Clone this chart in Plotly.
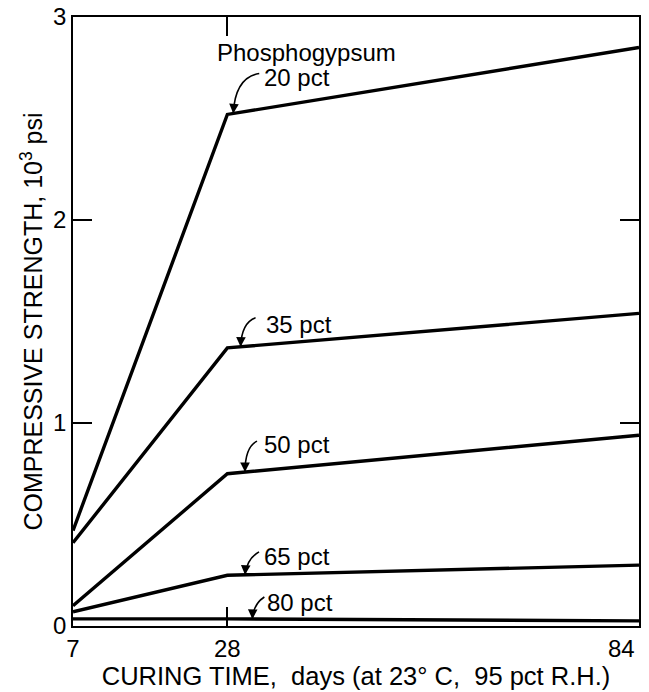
import plotly.graph_objects as go
import numpy as np

# ---- data ----
days = [7, 28, 84]
pct20 = [0.47, 2.52, 2.85]
pct35 = [0.41, 1.37, 1.54]
pct50 = [0.10, 0.75, 0.94]
pct65 = [0.07, 0.25, 0.30]
pct80 = [0.035, 0.035, 0.025]
series = [("20 pct", pct20), ("35 pct", pct35), ("50 pct", pct50),
          ("65 pct", pct65), ("80 pct", pct80)]
x_ticks = [7, 28, 84]
x_ticktext = ["7", "28", ""]      # the last one is drawn right-aligned below
last_x_label = "84"
y_ticks = [0, 1, 2, 3]

# ---- layout geometry ----
W, H = 649, 692
ML, MR, MT, MB = 73, 10, 17, 66
XR = [7, 84]
YR = [0, 3]
pw = W - ML - MR
ph = H - MT - MB
sx = pw / (XR[1] - XR[0])   # px per day
sy = ph / (YR[1] - YR[0])   # px per unit

# label/arrow styling (pixel offsets relative to the arrow tip on the line)
arrow_style = {
    "20 pct": dict(tip=28.8, tail=(26, -40), ctrl=(2, -36), text=(29, -36)),
    "35 pct": dict(tip=29.8, tail=(15, -29), ctrl=(1, -24), text=(23, -22)),
    "50 pct": dict(tip=30.4, tail=(12, -31), ctrl=(0, -25), text=(17, -28)),
    "65 pct": dict(tip=30.4, tail=(14, -23), ctrl=(2, -16), text=(17, -18)),
    "80 pct": dict(tip=31.4, tail=(12, -22), ctrl=(1, -15), text=(13, -17)),
}

FONT = "Liberation Sans, Arial, sans-serif"

fig = go.Figure()
for name, vals in series:
    fig.add_trace(go.Scatter(x=days, y=vals, mode="lines", name=name,
                             line=dict(color="black", width=3.4),
                             showlegend=False, hoverinfo="skip"))

def to_data(x0, y0, dxp, dyp):
    return x0 + dxp / sx, y0 - dyp / sy

annotations = []
shapes = []
for name, vals in series:
    st = arrow_style[name]
    tx = st["tip"]
    ty = float(np.interp(tx, days, vals))
    ax_, ay_ = to_data(tx, ty, *st["tail"])
    cx_, cy_ = to_data(tx, ty, *st["ctrl"])
    shapes.append(dict(type="path",
                       path=f"M {ax_},{ay_} Q {cx_},{cy_} {tx},{ty}",
                       line=dict(color="black", width=1.6)))
    # arrow head
    annotations.append(dict(x=tx, y=ty, xref="x", yref="y", text="",
                            showarrow=True, arrowhead=2, arrowsize=1.2,
                            arrowwidth=1.6, arrowcolor="black",
                            ax=(st["ctrl"][0]) * 0.35, ay=-9, standoff=0))
    annotations.append(dict(x=tx, y=ty, xref="x", yref="y", text=name,
                            showarrow=False, xanchor="left", yanchor="middle",
                            xshift=st["text"][0], yshift=-st["text"][1],
                            font=dict(size=24, color="black", family=FONT)))

# "Phosphogypsum" heading above the 20 pct label
tip20 = arrow_style["20 pct"]["tip"]
annotations.append(dict(x=tip20, y=float(np.interp(tip20, days, pct20)),
                        xref="x", yref="y", text="Phosphogypsum",
                        showarrow=False, xanchor="left", yanchor="middle",
                        xshift=-18, yshift=61,
                        font=dict(size=24, color="black", family=FONT)))

# last x tick label, right-aligned to the right axis edge
annotations.append(dict(x=x_ticks[-1], y=YR[0], xref="x", yref="y",
                        text=last_x_label, showarrow=False,
                        xanchor="right", yanchor="middle",
                        xshift=-2, yshift=-22,
                        font=dict(size=24, color="black", family=FONT)))

fig.update_layout(
    width=W, height=H,
    margin=dict(l=ML, r=MR, t=MT, b=MB, autoexpand=False),
    paper_bgcolor="white", plot_bgcolor="white",
    font=dict(family=FONT, size=24, color="black"),
    annotations=annotations, shapes=shapes,
    xaxis=dict(range=XR, tickvals=x_ticks, ticktext=x_ticktext,
               showgrid=False, zeroline=False, showline=True, linecolor="black",
               linewidth=1.5, mirror="ticks", ticks="inside", ticklen=19,
               tickwidth=1.5, tickcolor="black",
               tickfont=dict(size=24, family=FONT),
               title=dict(text="CURING TIME,  days (at 23° C,  95 pct R.H.)",
                          font=dict(size=25.5, family=FONT), standoff=5)),
    yaxis=dict(range=YR, tickvals=y_ticks, ticktext=[str(t) for t in y_ticks],
               showgrid=False, zeroline=False, showline=True, linecolor="black",
               linewidth=1.5, mirror="ticks", ticks="inside", ticklen=19,
               tickwidth=1.5, tickcolor="black",
               tickfont=dict(size=24, family=FONT),
               title=dict(text="COMPRESSIVE STRENGTH, 10<sup>3</sup> psi",
                          font=dict(size=25, family=FONT), standoff=3)),
)

fig.write_html("out.html")
